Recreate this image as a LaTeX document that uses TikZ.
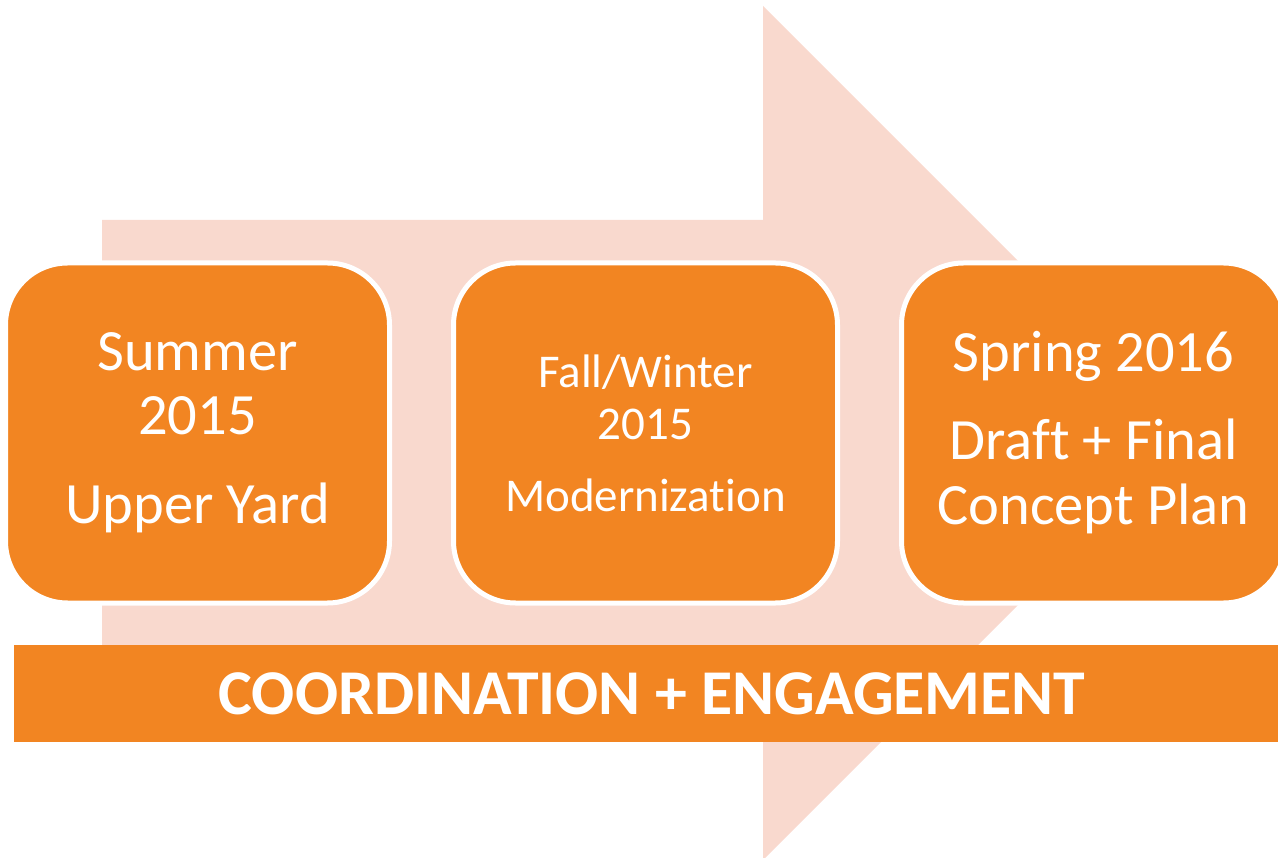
\documentclass[tikz,border=0pt]{standalone}
\usepackage{fontspec}
\setmainfont{Carlito}[Ligatures={NoCommon,NoContextual},RawFeature={-liga;-clig;-dlig}]
\usetikzlibrary{positioning}
\definecolor{stageorange}{RGB}{242,133,34}
\definecolor{arrowpeach}{RGB}{249,217,206}
\tikzset{stagebox/.style={fill=stageorange,draw=white,line width=5pt,rounded corners=62pt,minimum width=384pt,minimum height=340pt,text=white,align=center,inner sep=0pt},bandbox/.style={fill=stageorange,text=white,minimum height=97pt,inner sep=0pt}}

\begin{document}
\begin{tikzpicture}[x=1pt,y=-1pt]
\useasboundingbox (0,0) rectangle (1278,858);
\fill[arrowpeach] (102,220) -- (763,220) -- (763,6) -- (1190,433) -- (763,860) -- (763,646) -- (102,646) -- cycle;
\node (summer) at (197.5,433) [stagebox, font=\fontsize{58.5}{64}\selectfont] {Summer\\2015\\[25pt]Upper Yard};
\node (fall) [right of=summer, node distance=448pt, stagebox, font=\fontsize{47}{52}\selectfont] {Fall/Winter\\2015\\[20pt]Modernization};
\node (spring) [right of=fall, node distance=448pt, stagebox, font=\fontsize{58.5}{65}\selectfont] {Spring 2016\\[23pt]Draft + Final\\Concept Plan};
\node (band) at (652,693.5) [bandbox, minimum width=1276pt, font=\fontsize{63.8}{66}\selectfont\bfseries] {COORDINATION + ENGAGEMENT};
\end{tikzpicture}
\end{document}
